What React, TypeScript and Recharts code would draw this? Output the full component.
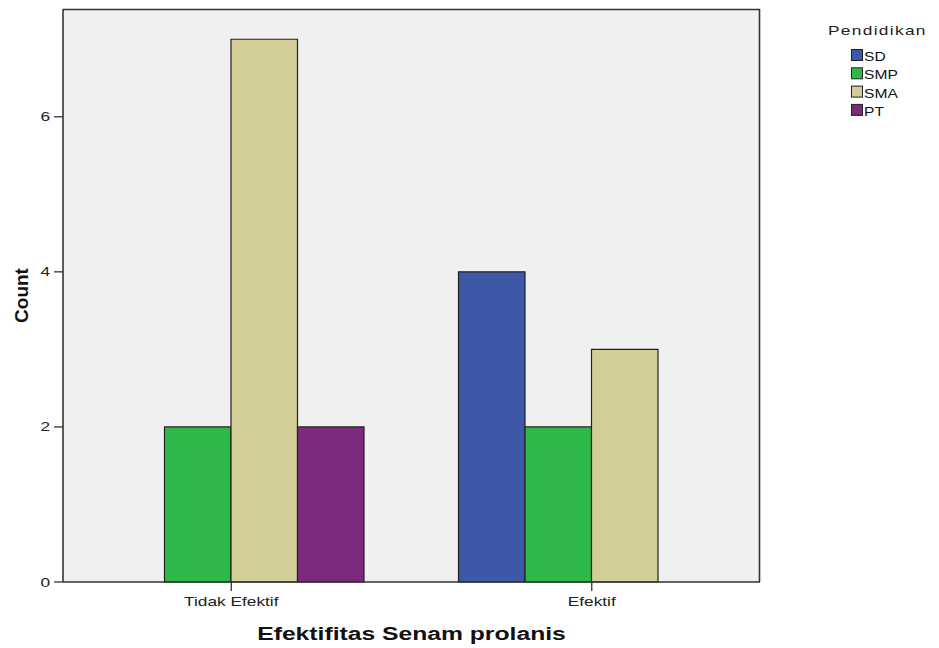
import React from 'react';
import { BarChart, Bar, XAxis, YAxis, CartesianGrid } from 'recharts';

const categories = ['Tidak Efektif', 'Efektif'];
const sdValues = [0, 4];
const smpValues = [2, 2];
const smaValues = [7, 3];
const ptValues = [2, 0];
const yTicks = [0, 2, 4, 6];

const seriesNames = ['SD', 'SMP', 'SMA', 'PT'];
const seriesColors = ['#3e58a8', '#2fb84a', '#d3cd98', '#7b2a7c'];
const seriesValues = [sdValues, smpValues, smaValues, ptValues];

const data = categories.map((c, i) => {
  const row: Record<string, string | number> = { category: c };
  seriesNames.forEach((s, j) => {
    row[s] = seriesValues[j][i];
  });
  return row;
});

const FONT = '"Liberation Sans", Arial, sans-serif';
const FRAME = '#333333';

const XTick = (props: any) => {
  const { x, y, payload } = props;
  return (
    <g transform={`translate(${x},${y})`}>
      <text transform="scale(1.33,1)" textAnchor="middle" dy="0.71em" fontFamily={FONT} fontSize={13} fill="#222">
        {payload.value}
      </text>
    </g>
  );
};

const YTick = (props: any) => {
  const { x, y, payload } = props;
  return (
    <g transform={`translate(${x},${y})`}>
      <text transform="scale(1.33,1)" textAnchor="end" dy="0.35em" fontFamily={FONT} fontSize={13} fill="#222">
        {payload.value}
      </text>
    </g>
  );
};

const XTitle = (props: any) => {
  const vb = props.viewBox;
  const cx = vb.x + vb.width / 2;
  const y = vb.y + 58;
  return (
    <g transform={`translate(${cx},${y})`}>
      <text transform="scale(1.3,1)" textAnchor="middle" fontFamily={FONT} fontWeight="bold" fontSize={19} fill="#111">
        Efektifitas Senam prolanis
      </text>
    </g>
  );
};

const YTitle = (props: any) => {
  const vb = props.viewBox;
  const cy = vb.y + vb.height / 2;
  const x = 20;
  return (
    <text
      transform={`rotate(-90, ${x}, ${cy})`}
      x={x}
      y={cy}
      textAnchor="middle"
      fontFamily={FONT}
      fontWeight="bold"
      fontSize={19}
      fill="#111"
    >
      Count
    </text>
  );
};

export default function App() {
  return (
    <div style={{ position: 'relative', width: 931, height: 640 }}>
      <BarChart
        width={931}
        height={640}
        data={data}
        margin={{ top: 1, right: 179, bottom: 0, left: 0 }}
        barGap={0}
      >
        <CartesianGrid
          fill="#f0f0f0"
          stroke={FRAME}
          strokeWidth={1.6}
          horizontalPoints={[1.5]}
          verticalPoints={[751.5]}
        />
        <XAxis
          dataKey="category"
          height={66}
          padding={{ left: -12, right: -12 }}
          tickSize={9}
          tickMargin={6}
          tick={<XTick />}
          axisLine={{ stroke: FRAME, strokeWidth: 1.6 }}
          tickLine={{ stroke: FRAME, strokeWidth: 1.3 }}
          label={<XTitle />}
        />
        <YAxis
          width={55}
          domain={[0, 7.39]}
          ticks={yTicks}
          tickSize={9}
          tickMargin={4}
          tick={<YTick />}
          axisLine={{ stroke: FRAME, strokeWidth: 1.6 }}
          tickLine={{ stroke: FRAME, strokeWidth: 1.3 }}
          label={<YTitle />}
        />
        {seriesNames.map((s, i) => (
          <Bar
            key={s}
            dataKey={s}
            barSize={66.5}
            fill={seriesColors[i]}
            stroke="#222"
            strokeWidth={1.2}
            isAnimationActive={false}
          />
        ))}
      </BarChart>
      <svg
        width={931}
        height={640}
        style={{ position: 'absolute', left: 0, top: 0, pointerEvents: 'none' }}
      >
        <g transform="translate(820,26.5)">
          <text transform="scale(1.33,1)" fontFamily={FONT} fontSize={13} letterSpacing={1} fill="#222">
            Pendidikan
          </text>
        </g>
        {seriesNames.map((s, i) => (
          <g key={s}>
            <rect
              x={843.5}
              y={41.5 + i * 18.3}
              width={11}
              height={11}
              fill={seriesColors[i]}
              stroke="#222"
              strokeWidth={1}
            />
            <g transform={`translate(856,${53 + i * 18.3})`}>
              <text transform="scale(1.2,1)" fontFamily={FONT} fontSize={13} fill="#111">
                {s}
              </text>
            </g>
          </g>
        ))}
      </svg>
    </div>
  );
}
